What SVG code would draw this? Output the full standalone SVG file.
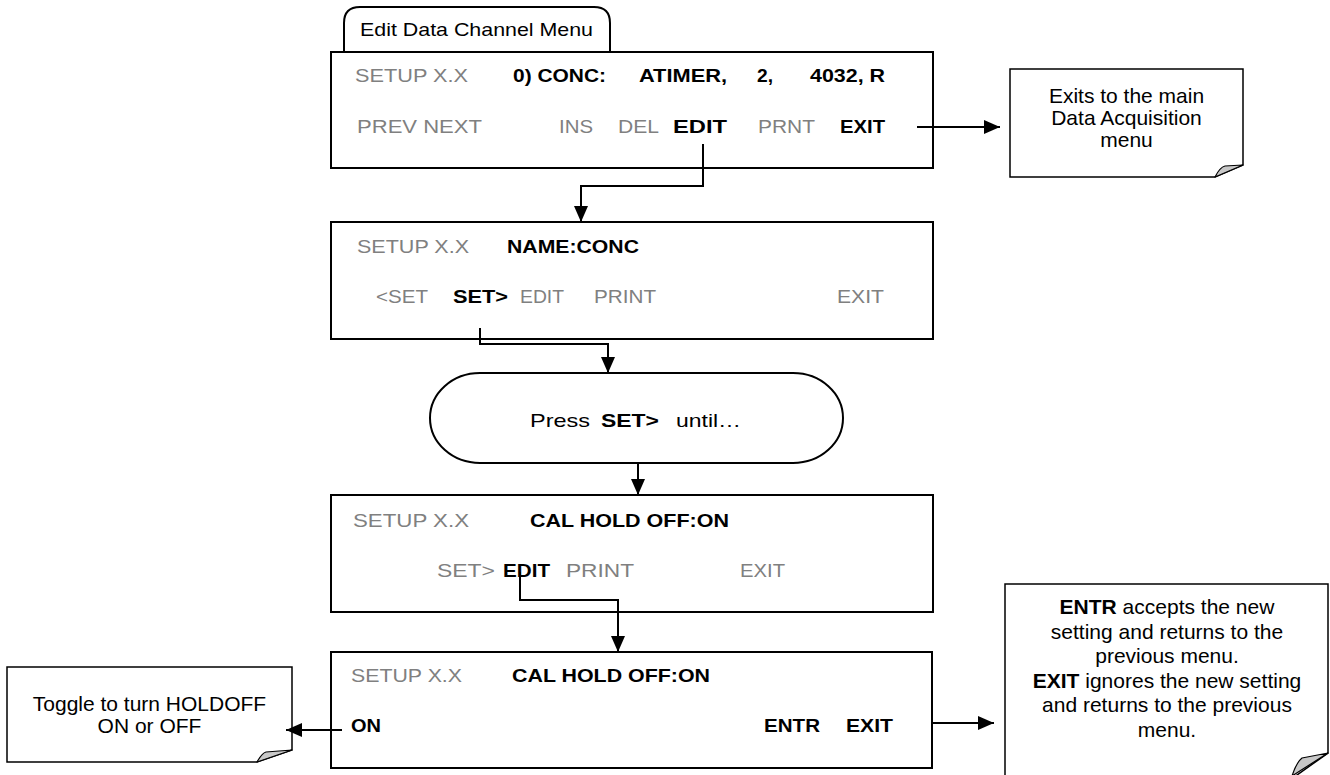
<svg xmlns="http://www.w3.org/2000/svg" width="1330" height="775" viewBox="0 0 1330 775">
<style>
  text { font-family: "Liberation Sans", Arial, sans-serif; }
  .box { fill: #ffffff; stroke: #000000; stroke-width: 2; }
  .note { fill: #ffffff; stroke: #000000; stroke-width: 1.5; }
  .fold { fill: #c8c8c8; stroke: #000000; stroke-width: 1.2; stroke-linejoin: round; }
  .d { font-size: 19px; }
  .g { fill: #808080; }
  .b { fill: #000000; font-weight: bold; }
  .n { font-size: 21px; fill: #000000; text-anchor: middle; }
  .conn { fill: none; stroke: #000000; stroke-width: 2; marker-end: url(#arrow); }
</style>
<defs>
  <marker id="arrow" viewBox="0 0 16 14" refX="16" refY="7" markerWidth="16" markerHeight="14" markerUnits="userSpaceOnUse" orient="auto">
    <path d="M0,0 L16,7 L0,14 Z" fill="#000000"/>
  </marker>
</defs>

<g id="edit-data-channel-menu">
  <path class="box" d="M344,52 V23 Q344,7 360,7 H594 Q610,7 610,23 V52"/>
  <text class="d" x="360" y="36" textLength="233" lengthAdjust="spacingAndGlyphs" fill="#000">Edit Data Channel Menu</text>
  <rect class="box" x="331" y="52" width="602" height="116"/>
  <text class="d g" x="355" y="82" textLength="113" lengthAdjust="spacingAndGlyphs">SETUP X.X</text>
  <text class="d b" x="513" y="82" textLength="93" lengthAdjust="spacingAndGlyphs">0) CONC:</text>
  <text class="d b" x="639" y="82" textLength="88" lengthAdjust="spacingAndGlyphs">ATIMER,</text>
  <text class="d b" x="757" y="82" textLength="16" lengthAdjust="spacingAndGlyphs">2,</text>
  <text class="d b" x="810" y="82" textLength="75" lengthAdjust="spacingAndGlyphs">4032, R</text>
  <text class="d g" x="357" y="133" textLength="125" lengthAdjust="spacingAndGlyphs">PREV NEXT</text>
  <text class="d g" x="559" y="133" textLength="34" lengthAdjust="spacingAndGlyphs">INS</text>
  <text class="d g" x="618" y="133" textLength="41" lengthAdjust="spacingAndGlyphs">DEL</text>
  <text class="d b" x="673" y="133" textLength="54" lengthAdjust="spacingAndGlyphs">EDIT</text>
  <text class="d g" x="758" y="133" textLength="57" lengthAdjust="spacingAndGlyphs">PRNT</text>
  <text class="d b" x="840" y="133" textLength="45" lengthAdjust="spacingAndGlyphs">EXIT</text>
</g>

<g id="note-exits">
  <path class="note" d="M1010,69 H1243 V165 L1215,177 H1010 Z"/>
  <path class="fold" d="M1215,177 C1218,171 1221,167 1225,166 L1243,165 Z"/>
  <text class="n" x="1126.5" y="103">Exits to the main</text>
  <text class="n" x="1126.5" y="125">Data Acquisition</text>
  <text class="n" x="1126.5" y="147">menu</text>
</g>

<g id="name-menu">
  <rect class="box" x="331" y="222" width="602" height="117"/>
  <text class="d g" x="357" y="253" textLength="112" lengthAdjust="spacingAndGlyphs">SETUP X.X</text>
  <text class="d b" x="507" y="253" textLength="132" lengthAdjust="spacingAndGlyphs">NAME:CONC</text>
  <text class="d g" x="376" y="303" textLength="52" lengthAdjust="spacingAndGlyphs">&lt;SET</text>
  <text class="d b" x="453" y="303" textLength="55" lengthAdjust="spacingAndGlyphs">SET&gt;</text>
  <text class="d g" x="520" y="303" textLength="44" lengthAdjust="spacingAndGlyphs">EDIT</text>
  <text class="d g" x="594" y="303" textLength="62" lengthAdjust="spacingAndGlyphs">PRINT</text>
  <text class="d g" x="837" y="303" textLength="47" lengthAdjust="spacingAndGlyphs">EXIT</text>
</g>

<g id="press-set">
  <rect class="box" x="430" y="373" width="413" height="90" rx="50" ry="45"/>
  <text class="d" x="530" y="427" textLength="60" lengthAdjust="spacingAndGlyphs" fill="#000">Press</text>
  <text class="d b" x="601" y="427" textLength="58" lengthAdjust="spacingAndGlyphs">SET&gt;</text>
  <text class="d" x="676" y="427" textLength="65" lengthAdjust="spacingAndGlyphs" fill="#000">until…</text>
</g>

<g id="cal-hold-menu">
  <rect class="box" x="331" y="495" width="602" height="117"/>
  <text class="d g" x="353" y="527" textLength="116" lengthAdjust="spacingAndGlyphs">SETUP X.X</text>
  <text class="d b" x="530" y="527" textLength="199" lengthAdjust="spacingAndGlyphs">CAL HOLD OFF:ON</text>
  <text class="d g" x="437" y="577" textLength="58" lengthAdjust="spacingAndGlyphs">SET&gt;</text>
  <text class="d b" x="503" y="577" textLength="47" lengthAdjust="spacingAndGlyphs">EDIT</text>
  <text class="d g" x="566" y="577" textLength="68" lengthAdjust="spacingAndGlyphs">PRINT</text>
  <text class="d g" x="740" y="577" textLength="45" lengthAdjust="spacingAndGlyphs">EXIT</text>
</g>

<g id="cal-hold-edit">
  <rect class="box" x="331" y="652" width="601" height="116"/>
  <text class="d g" x="351" y="682" textLength="111" lengthAdjust="spacingAndGlyphs">SETUP X.X</text>
  <text class="d b" x="512" y="682" textLength="198" lengthAdjust="spacingAndGlyphs">CAL HOLD OFF:ON</text>
  <text class="d b" x="351" y="732" textLength="30" lengthAdjust="spacingAndGlyphs">ON</text>
  <text class="d b" x="764" y="732" textLength="56" lengthAdjust="spacingAndGlyphs">ENTR</text>
  <text class="d b" x="846" y="732" textLength="47" lengthAdjust="spacingAndGlyphs">EXIT</text>
</g>

<g id="note-toggle">
  <path class="note" d="M7,667 H292 V750 L257,762 H7 Z"/>
  <path class="fold" d="M257,762 C260,757 262,753 266,752 L292,750 Z"/>
  <text class="n" x="149.5" y="711">Toggle to turn HOLDOFF</text>
  <text class="n" x="149.5" y="733">ON or OFF</text>
</g>

<g id="note-entr-exit">
  <path class="note" d="M1005,584 H1328 V753 L1290,780 H1005 Z"/>
  <path class="fold" d="M1292,776 C1295,767 1298,761 1302,758 L1328,753 Z"/>
  <text class="n" x="1167" y="614"><tspan font-weight="bold">ENTR</tspan> accepts the new</text>
  <text class="n" x="1167" y="638.5">setting and returns to the</text>
  <text class="n" x="1167" y="663">previous menu.</text>
  <text class="n" x="1167" y="687.5"><tspan font-weight="bold">EXIT</tspan> ignores the new setting</text>
  <text class="n" x="1167" y="712">and returns to the previous</text>
  <text class="n" x="1167" y="736.5">menu.</text>
</g>

<g id="connectors">
  <path class="conn" d="M703,144 V186 H581 V222"/>
  <path class="conn" d="M917,127 H1000"/>
  <path class="conn" d="M480,328 V344 H608 V373"/>
  <path class="conn" d="M638,463 V495"/>
  <path class="conn" d="M520,572 V600 H618 V652"/>
  <path class="conn" d="M342,730 H286"/>
  <path class="conn" d="M931,723 H994"/>
</g>
</svg>
